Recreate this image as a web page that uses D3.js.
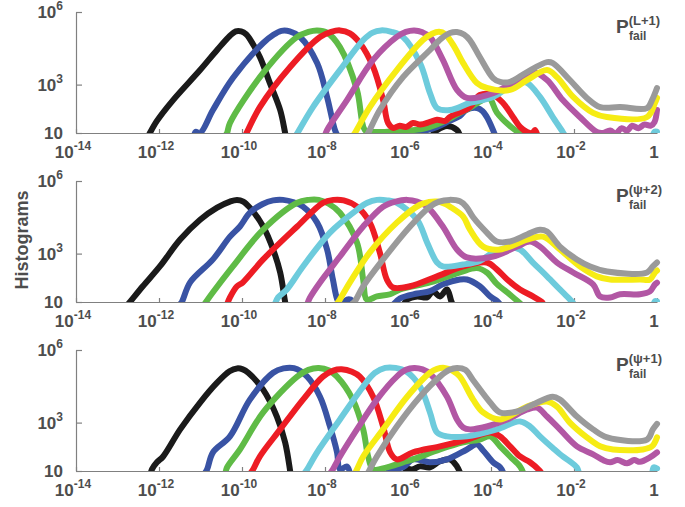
<!DOCTYPE html>
<html>
<head>
<meta charset="utf-8">
<script src="https://cdn.jsdelivr.net/npm/d3@7"></script>
<style>
  body { margin: 0; background: #fff; }
  svg { display: block; }
  text { font-family: "Liberation Sans", Arial, sans-serif; font-weight: bold; fill: #4d4d4d; }
</style>
</head>
<body>
<svg id="chart"></svg>
<script>
// Data: points are [log10 Pfail, log10 count], null = gap in the histogram

// x ticks (every two decades) and labels
const xTicks = [1e-14, 1e-12, 1e-10, 1e-8, 1e-6, 1e-4, 1e-2, 1];
const xTickLabels = [["10", "-14"], ["10", "-12"], ["10", "-10"], ["10", "-8"], ["10", "-6"], ["10", "-4"], ["10", "-2"], ["1", ""]];
const yTicks = [10, 1e3, 1e6];
const yTickLabels = [["10", ""], ["10", "3"], ["10", "6"]];

const seriesColors = ["#1a1a1a", "#3953a4", "#5fbb46", "#ed1c24", "#6dcbdc", "#b257a4", "#f6ec14", "#9a9a9a"];
const panelTags = ["(L+1)", "(\u03c8+2)", "(\u03c8+1)"];

// ---- panel 1 : P_fail^(L+1)
const black1 = [[-12.25,0.9],[-12.22,1.0],[-12.05,1.5],[-11.66,2.36],[-11.01,3.6],[-10.6,4.43],[-10.29,5.02],[-10.15,5.2],[-10.02,5.2],[-9.9,5.08],[-9.81,4.88],[-9.57,4.14],[-9.33,3.07],[-9.08,1.95],[-8.96,1.0],[-8.9,0.5],
  null,[-5.45,0.6],[-5.38,1.0],[-5.3,1.12],[-5.06,1.29],[-4.82,1.12],[-4.75,0.9]];
const blue1 = [[-11.15,0.9],[-11.12,1.05],[-11.01,1.0],[-10.7,1.95],[-10.22,3.27],[-9.49,4.72],[-9.25,5.05],[-9.05,5.22],[-8.85,5.2],[-8.6,4.97],[-8.19,3.89],[-7.95,2.49],[-7.76,1.12],[-7.7,0.9],
  null,[-5.95,0.9],[-5.85,1.1],[-5.6,1.1],[-5.3,1.25],[-5.0,1.5],[-4.75,1.7],[-4.6,1.95],[-4.34,2.03],[-4.2,1.9],[-4.1,1.66],[-3.95,1.12],[-3.9,0.9]];
const green1 = [[-10.4,0.9],[-10.36,1.0],[-10.29,1.41],[-9.49,3.48],[-8.67,4.97],[-8.4,5.18],[-8.19,5.24],[-7.95,5.15],[-7.64,4.55],[-7.23,2.78],[-7.04,1.12],[-6.9,1.05],[-6.5,1.05],[-6.1,1.1],[-5.7,1.15],[-5.47,1.25],[-5.1,1.5],[-4.75,1.83],[-4.5,2.05],[-4.27,2.3],[-4.05,2.45],[-3.86,1.85],[-3.55,1.3],[-3.27,0.95]];
const red1 = [[-9.92,0.9],[-9.88,1.04],[-9.57,2.07],[-8.84,3.73],[-8.12,4.97],[-7.85,5.18],[-7.64,5.24],[-7.4,5.12],[-7.16,4.72],[-6.84,3.73],[-6.6,2.36],[-6.48,1.41],[-6.36,1.21],[-6.2,1.3],[-6.05,1.25],[-5.88,1.41],[-5.7,1.35],[-5.47,1.46],[-5.3,1.55],[-5.1,1.5],[-4.99,1.66],[-4.51,2.07],[-4.27,2.57],[-3.95,2.57],[-3.71,2.24],[-3.47,1.66],[-3.3,1.25],[-3.13,1.04],[-3.0,1.0],[-2.94,1.12],[-2.88,0.9]];
const cyan1 = [[-8.7,0.9],[-8.65,1.04],[-8.29,2.07],[-7.64,3.6],[-7.08,4.84],[-6.85,5.15],[-6.65,5.24],[-6.4,5.18],[-6.12,4.97],[-5.71,3.89],[-5.47,2.65],[-5.3,2.03],[-4.99,1.95],[-4.51,2.24],[-3.95,2.49],[-3.37,3.11],[-3.13,3.07],[-2.82,2.49],[-2.51,1.66],[-2.27,1.04],[-2.22,0.9],
  null,[-0.1,0.9],[-0.06,1.05],[0,1.05]];
const magenta1 = [[-8.0,0.9],[-7.95,1.12],[-7.47,2.36],[-6.84,4.02],[-6.27,4.97],[-6.05,5.18],[-5.85,5.24],[-5.65,5.16],[-5.47,4.97],[-5.16,4.02],[-4.82,2.78],[-4.58,2.45],[-3.95,2.65],[-3.37,3.19],[-2.99,3.52],[-2.65,3.19],[-2.27,2.36],[-1.86,1.66],[-1.45,1.04],[-1.3,1.0],[-1.13,1.1],[-1.0,0.98],[-0.85,1.2],[-0.72,1.1],[-0.6,1.3],[-0.45,1.2],[-0.3,1.35],[-0.15,1.3],[-0.06,1.45],[0,1.95]];
const yellow1 = [[-7.32,0.9],[-7.28,1.0],[-6.92,2.07],[-6.27,3.6],[-5.64,4.84],[-5.42,5.1],[-5.25,5.18],[-5.1,5.08],[-4.88,4.55],[-4.67,3.89],[-4.34,3.07],[-4.1,2.86],[-3.54,2.78],[-3.13,3.19],[-2.65,3.6],[-2.41,3.31],[-2.02,2.49],[-1.54,1.83],[-1.21,1.66],[-0.24,1.66],[-0.05,2.24],[0,2.45]];
const gray1 = [[-7.0,0.9],[-6.96,1.0],[-6.68,1.95],[-6.12,3.31],[-5.47,4.43],[-5.2,4.9],[-4.99,5.13],[-4.82,5.17],[-4.65,5.07],[-4.51,4.84],[-4.27,4.14],[-3.95,3.27],[-3.78,3.11],[-3.54,3.11],[-3.13,3.52],[-2.65,3.93],[-2.51,3.89],[-2.1,3.19],[-1.69,2.45],[-1.37,2.07],[-0.89,2.07],[-0.24,2.03],[-0.12,2.36],[0,2.86]];

// ---- panel 2 : P_fail^(psi+2)
const black2 = [[-12.75,0.9],[-12.7,1.0],[-12.39,1.65],[-11.98,2.47],[-11.49,3.58],[-11.01,4.4],[-10.6,4.9],[-10.29,5.15],[-10.12,5.22],[-9.97,5.15],[-9.81,4.9],[-9.49,4.12],[-9.25,3.17],[-9.08,2.22],[-8.96,1.0],[-8.9,0.5],
  null,[-6.1,0.9],[-6.02,1.1],[-5.78,1.23],[-5.54,1.19],[-5.4,1.44],[-5.23,1.23],[-5.06,1.52],[-4.96,1.05],[-4.9,0.8]];
const blue2 = [[-11.5,0.9],[-11.45,1.0],[-11.25,1.81],[-10.7,2.76],[-10.29,3.7],[-10.05,4.12],[-9.81,4.69],[-9.5,5.05],[-9.25,5.2],[-9.01,5.22],[-8.75,5.12],[-8.53,4.94],[-8.19,4.28],[-7.95,3.17],[-7.81,1.93],[-7.69,1.05],[-7.6,0.9],[-7.47,1.1],[-7.33,1.05],[-7.25,0.8],
  null,[-6.4,0.8],[-6.19,1.15],[-5.78,1.35],[-5.47,1.45],[-5.16,1.73],[-4.75,1.93],[-4.58,1.93],[-4.27,1.65],[-4.02,1.23],[-3.86,1.05],[-3.78,0.9]];
const green2 = [[-10.89,0.95],[-10.7,1.4],[-10.22,2.47],[-9.49,3.99],[-8.67,5.1],[-8.4,5.22],[-8.15,5.22],[-7.9,5.05],[-7.64,4.69],[-7.23,3.46],[-7.08,1.93],[-6.99,1.1],[-6.75,1.23],[-6.43,1.32],[-6.19,1.52],[-5.47,1.81],[-4.75,2.22],[-4.34,2.4],[-4.1,2.22],[-3.86,1.75],[-3.54,1.3],[-3.3,0.95]];
const red2 = [[-10.35,0.95],[-10.29,1.19],[-10.12,1.65],[-9.98,1.81],[-9.49,2.76],[-8.67,4.12],[-8.05,5.1],[-7.8,5.22],[-7.55,5.2],[-7.23,4.94],[-6.92,4.28],[-6.68,3.05],[-6.51,1.93],[-6.36,1.6],[-5.95,1.65],[-5.3,2.06],[-4.67,2.47],[-4.1,2.63],[-3.86,2.35],[-3.61,1.93],[-3.3,1.52],[-2.99,1.23],[-2.77,1.0],[-2.74,0.9]];
const cyan2 = [[-9.2,0.95],[-9.13,1.19],[-8.92,1.52],[-8.53,2.47],[-7.88,3.87],[-7.23,4.81],[-6.98,5.1],[-6.75,5.22],[-6.5,5.2],[-6.27,5.1],[-5.78,4.4],[-5.54,3.46],[-5.3,2.63],[-5.16,2.47],[-4.67,2.55],[-4.27,2.7],[-3.95,3.05],[-3.54,3.25],[-3.3,3.17],[-2.99,2.63],[-2.65,2.06],[-2.34,1.52],[-2.1,1.11],[-2.02,0.95],
  null,[-0.1,0.8],[-0.05,1.03],[0,1.03]];
const magenta2 = [[-8.42,0.95],[-8.36,1.19],[-8.12,1.81],[-7.64,2.88],[-7.08,4.12],[-6.6,4.94],[-6.3,5.15],[-6.02,5.22],[-5.78,5.15],[-5.54,4.94],[-5.16,4.12],[-4.82,3.17],[-4.58,2.84],[-3.95,2.88],[-3.37,3.29],[-3.06,3.5],[-2.82,3.29],[-2.41,2.63],[-2.02,2.22],[-1.54,1.73],[-1.37,1.23],[-1.13,1.19],[-0.89,1.32],[-0.41,1.32],[-0.17,1.44],[-0.05,1.73],[0,1.8]];
const yellow2 = [[-7.7,0.95],[-7.64,1.11],[-7.4,1.81],[-6.92,3.05],[-6.27,4.28],[-5.71,5.02],[-5.5,5.13],[-5.3,5.15],[-5.1,5.05],[-4.99,4.94],[-4.67,4.53],[-4.51,4.0],[-4.19,3.29],[-3.78,3.17],[-3.13,3.58],[-2.75,3.7],[-2.34,3.17],[-1.86,2.47],[-1.45,2.06],[-1.13,1.93],[-0.41,1.93],[-0.17,1.93],[-0.05,2.22],[0,2.3]];
const gray2 = [[-7.33,0.95],[-7.28,1.03],[-7.08,1.65],[-6.6,2.76],[-5.95,4.12],[-5.47,4.94],[-5.25,5.15],[-5.0,5.22],[-4.75,5.16],[-4.6,4.95],[-4.43,4.5],[-4.1,3.87],[-3.86,3.5],[-3.54,3.5],[-3.13,3.79],[-2.82,3.99],[-2.65,3.91],[-2.34,3.29],[-1.93,2.76],[-1.61,2.47],[-1.2,2.26],[-0.24,2.22],[-0.1,2.47],[0,2.63]];

// ---- panel 3 : P_fail^(psi+1)
const black3 = [[-12.2,0.9],[-12.17,1.07],[-12.05,1.36],[-11.9,1.6],[-11.49,2.72],[-11.01,3.83],[-10.6,4.65],[-10.3,5.12],[-10.12,5.24],[-9.98,5.2],[-9.85,5.06],[-9.49,4.36],[-9.16,3.25],[-8.96,2.18],[-8.84,1.0],[-8.8,0.5],
  null,[-6.1,0.8],[-6.02,1.07],[-5.88,1.07],[-5.71,1.19],[-5.47,1.15],[-5.23,1.4],[-4.99,1.48],[-4.82,1.19],[-4.75,0.95]];
const blue3 = [[-10.9,0.9],[-10.84,1.07],[-10.7,1.77],[-10.29,2.43],[-9.81,3.95],[-9.25,5.06],[-9.0,5.24],[-8.75,5.25],[-8.43,4.9],[-8.12,4.07],[-7.88,2.84],[-7.71,1.77],[-7.64,1.07],[-7.47,1.19],[-7.4,0.9],
  null,[-6.5,0.9],[-6.43,1.07],[-6.12,1.15],[-5.88,1.48],[-5.47,1.36],[-5.06,1.48],[-4.58,1.89],[-4.34,2.1],[-4.19,1.85],[-3.95,1.36],[-3.78,1.15],[-3.71,0.95]];
const green3 = [[-10.4,0.9],[-10.36,1.15],[-10.05,1.89],[-9.49,3.42],[-8.67,4.9],[-8.4,5.18],[-8.15,5.26],[-7.9,5.15],[-7.71,4.9],[-7.33,3.95],[-7.08,2.72],[-6.96,1.6],[-6.84,1.07],[-6.51,1.15],[-6.12,1.36],[-5.88,1.48],[-5.23,1.89],[-4.67,2.18],[-4.27,2.3],[-4.02,2.43],[-3.78,2.02],[-3.54,1.6],[-3.3,1.19],[-3.23,0.95]];
const red3 = [[-9.8,0.9],[-9.73,1.07],[-9.57,1.6],[-9.08,2.72],[-8.53,3.95],[-8.05,4.9],[-7.8,5.15],[-7.6,5.2],[-7.35,5.1],[-7.16,4.9],[-6.84,4.07],[-6.6,2.84],[-6.43,1.77],[-6.27,1.48],[-5.88,1.77],[-5.23,2.02],[-4.58,2.3],[-4.02,2.59],[-3.78,2.43],[-3.54,2.02],[-3.3,1.6],[-3.06,1.36],[-2.82,1.0],[-2.78,0.9]];
const cyan3 = [[-8.5,0.9],[-8.43,1.07],[-8.19,1.77],[-7.64,3.13],[-7.08,4.49],[-6.8,5.05],[-6.55,5.26],[-6.3,5.26],[-6.05,5.12],[-5.71,4.49],[-5.47,3.42],[-5.3,2.59],[-5.06,2.43],[-4.58,2.43],[-3.86,2.72],[-3.3,3.05],[-3.06,2.84],[-2.82,2.43],[-2.51,1.95],[-2.27,1.6],[-2.1,1.4],[-1.93,1.15],[-1.88,0.9],
  null,[-0.12,0.8],[-0.08,1.15],[0,1.1]];
const magenta3 = [[-7.88,0.9],[-7.81,1.07],[-7.64,1.6],[-7.23,2.72],[-6.75,3.95],[-6.27,4.9],[-6.05,5.18],[-5.85,5.26],[-5.65,5.2],[-5.47,5.02],[-5.06,4.07],[-4.82,3.13],[-4.67,2.8],[-4.51,2.72],[-4.1,2.84],[-3.61,3.13],[-3.13,3.54],[-2.89,3.62],[-2.65,3.25],[-2.34,2.72],[-1.93,2.02],[-1.54,1.69],[-1.3,1.45],[-1.13,1.36],[-0.95,1.45],[-0.72,1.32],[-0.55,1.45],[-0.41,1.38],[-0.17,1.56],[0,1.77]];
const yellow3 = [[-7.28,0.9],[-7.23,1.07],[-7.08,1.6],[-6.6,2.72],[-6.02,4.07],[-5.47,5.06],[-5.3,5.22],[-5.12,5.26],[-4.93,5.15],[-4.75,4.9],[-4.43,3.95],[-4.19,3.42],[-3.78,3.13],[-3.13,3.66],[-2.65,3.87],[-2.41,3.66],[-2.1,3.0],[-1.69,2.39],[-1.37,2.02],[-1.06,1.89],[-0.34,1.89],[-0.12,2.02],[0,2.39]];
const gray3 = [[-6.97,0.9],[-6.92,1.07],[-6.75,1.6],[-6.27,2.84],[-5.71,4.07],[-5.23,4.9],[-5.0,5.18],[-4.82,5.26],[-4.62,5.18],[-4.43,4.75],[-4.02,3.83],[-3.78,3.42],[-3.37,3.46],[-2.99,3.75],[-2.51,4.07],[-2.34,3.95],[-1.93,3.25],[-1.54,2.72],[-1.2,2.39],[-0.24,2.3],[-0.1,2.72],[0,2.95]];

const panelSeries = [
  [black1, blue1, green1, red1, cyan1, magenta1, yellow1, gray1],
  [black2, blue2, green2, red2, cyan2, magenta2, yellow2, gray2],
  [black3, blue3, green3, red3, cyan3, magenta3, yellow3, gray3]
];

// Layout
const width = 685;
const height = 507;
const left = 76, right = 657;
const panelTops = [12, 181, 350];
const panelH = 121;
const axisColor = "#808080";

const svg = d3.select("#chart").attr("width", width).attr("height", height);

const x = d3.scaleLog().domain([1e-14, 1]).range([left, right]);

function supLabel(sel, parts, supSize, supDy) {
  sel.text(null);
  sel.append("tspan").text(parts[0]);
  if (parts[1]) sel.append("tspan").attr("dy", supDy).attr("font-size", supSize).text(parts[1]);
}

panelSeries.forEach((series, p) => {
  const top = panelTops[p];
  const base = top + panelH;
  const y = d3.scaleLog().domain([10, 1e6]).range([base, top]);
  const g = svg.append("g");

  g.append("clipPath").attr("id", "clip" + p)
    .append("rect").attr("x", left).attr("y", top - 10)
    .attr("width", right - left + 6).attr("height", panelH + 10);

  // axes
  const xAxis = d3.axisBottom(x).tickValues(xTicks).tickSizeInner(-4).tickSizeOuter(0).tickFormat("");
  const gx = g.append("g").attr("transform", "translate(0," + base + ")").call(xAxis);
  const yAxis = d3.axisLeft(y).tickValues(yTicks).tickSizeInner(-6).tickSizeOuter(0).tickFormat("");
  const gy = g.append("g").attr("transform", "translate(" + left + ",0)").call(yAxis);
  [gx, gy].forEach(a => {
    a.select(".domain").attr("stroke", axisColor).attr("stroke-width", 1.2);
    a.selectAll(".tick line").attr("stroke", axisColor).attr("stroke-width", 1.2);
  });

  // x tick labels
  g.selectAll(".xlab").data(xTicks).enter().append("text")
    .attr("class", "xlab")
    .attr("x", d => x(d) - 3)
    .attr("y", base + 25)
    .attr("text-anchor", "middle")
    .attr("font-size", 17)
    .each(function (d, i) { supLabel(d3.select(this), xTickLabels[i], 12, -8); });

  // y tick labels
  g.selectAll(".ylab").data(yTicks).enter().append("text")
    .attr("class", "ylab")
    .attr("x", 63)
    .attr("y", d => y(d) + 6)
    .attr("text-anchor", "end")
    .attr("font-size", 17)
    .each(function (d, i) { supLabel(d3.select(this), yTickLabels[i], 12, -8); });

  // curves
  const line = d3.line()
    .defined(d => d !== null)
    .x(d => x(Math.pow(10, d[0])))
    .y(d => y(Math.pow(10, d[1])))
    .curve(d3.curveCatmullRom.alpha(0.5));

  g.append("g").attr("clip-path", "url(#clip" + p + ")")
    .selectAll("path").data(series).enter().append("path")
    .attr("d", line)
    .attr("fill", "none")
    .attr("stroke", (d, i) => seriesColors[i])
    .attr("stroke-width", 6)
    .attr("stroke-linejoin", "round")
    .attr("stroke-linecap", "round");

  // panel tag P_fail^(..)
  const tag = g.append("text").attr("x", 616).attr("y", top + 21).attr("font-size", 19).attr("fill", "#3a3a3a");
  tag.append("tspan").text("P");
  tag.append("tspan").attr("font-size", 13).attr("dy", -8).text(panelTags[p]);
  g.append("text").attr("x", 629).attr("y", top + 28).attr("font-size", 12).attr("fill", "#3a3a3a").text("fail");
});

svg.append("text")
  .attr("transform", "translate(28,240) rotate(-90)")
  .attr("text-anchor", "middle")
  .attr("font-size", 18)
  .text("Histograms");
</script>
</body>
</html>
